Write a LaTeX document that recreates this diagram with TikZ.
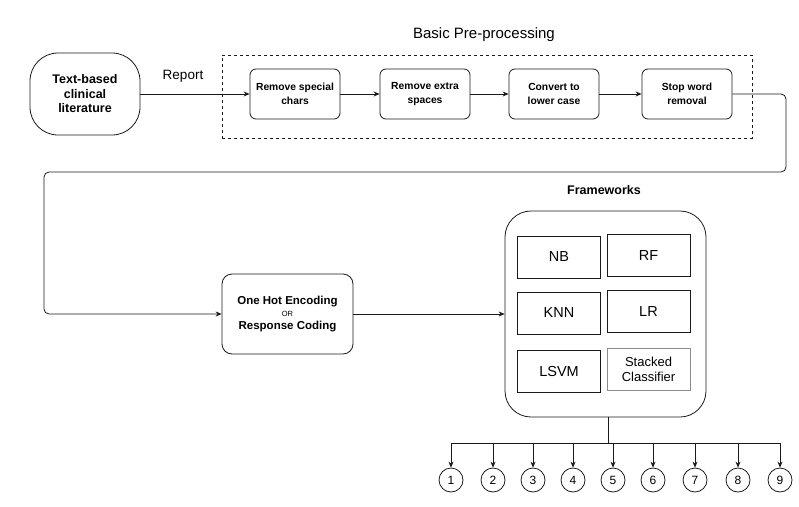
\documentclass[tikz,border=0pt]{standalone}
\usepackage{fontspec}
\setmainfont{Liberation Sans}
\usetikzlibrary{arrows.meta, positioning}
\definecolor{cline}{HTML}{1A1A1A}
\definecolor{cgrey}{HTML}{8C8C8C}
\tikzset{
  every picture/.style={line width=0.8pt, draw=cline},
  srcbox/.style={draw=cline, rounded corners=28pt, align=center, minimum width=110pt, minimum height=82pt, font=\fontsize{12.5}{14.5}\selectfont\bfseries},
  stepbox/.style={draw=cline, rounded corners=6pt, align=center, minimum width=90pt, minimum height=50pt, font=\fontsize{10.3}{13.5}\selectfont\bfseries},
  encbox/.style={draw=cline, rounded corners=10pt, align=center, minimum width=131pt, minimum height=80pt, font=\fontsize{11.5}{13}\selectfont\bfseries},
  framebox/.style={draw=cline, rounded corners=26pt, minimum width=201pt, minimum height=206pt},
  algo/.style={draw=#1, minimum width=83pt, minimum height=42pt, align=center, font=\fontsize{14.5}{16}\selectfont},
  algo/.default=cline,
  outnode/.style={draw=cline, circle, minimum size=24pt, inner sep=0pt, font=\fontsize{12}{14}\selectfont},
  arrow/.style={-{Stealth[length=6pt, width=5pt]}, draw=cline},
  title/.style={font=\fontsize{15}{17}\selectfont},
  note/.style={font=\fontsize{12.5}{14}\selectfont\bfseries},
}
\begin{document}
\begin{tikzpicture}[x=1pt, y=-1pt]
  \useasboundingbox (0,0) rectangle (799,506);
  % source
  \node[srcbox] (src) at (85,94) {Text-based\\clinical\\literature};
  \node[font=\fontsize{13.5}{15}\selectfont] (rep) at (183,76) {Report};
  % pre-processing
  \node[title] (preT) at (484,35) {Basic Pre-processing};
  \node[draw=cline, dashed, line width=0.6pt, minimum width=530pt, minimum height=83pt] (prep) at (487,96.5) {};
  \node[stepbox] (rm) at (295,94) {Remove special\\chars};
  \node[stepbox] (sp) at (425,94) {Remove extra\\spaces};
  \node[stepbox] (low) at (554,94) {Convert to\\lower case};
  \node[stepbox] (stop) at (687,94) {Stop word\\removal};
  \draw[arrow] (src.east) -- (rm.west);
  \draw[arrow] (rm) -- (sp); \draw[arrow] (sp) -- (low); \draw[arrow] (low) -- (stop);
  % encoding
  \node[encbox] (enc) at (287.5,314) {One Hot Encoding\\[-1pt]{\fontsize{7.5}{8}\selectfont\mdseries OR}\\Response Coding};
  \coordinate (c1) at (786,172);
  \coordinate (c2) at (44,172);
  \draw[arrow, rounded corners=5pt] (stop.east) -| (c1) -- (c2) |- (enc.west);
  % frameworks
  \node[note] (frT) at (604,190) {Frameworks};
  \node[framebox] (frame) at (605.5,314) {};
  \node[algo] (nb) at (559,257) {NB};
  \node[algo] (rf) at (648.5,255.5) {RF};
  \node[algo] (knn) at (559,313) {KNN};
  \node[algo] (lr) at (648.5,311.5) {LR};
  \node[algo] (lsvm) at (559,371.5) {LSVM};
  \node[algo=cgrey, font=\fontsize{13}{15}\selectfont] (stk) at (648.5,369.5) {Stacked\\Classifier};
  \draw[arrow] (enc.east) -- (frame.west);
  % outputs
  \coordinate (fork) at (608,443);
  \draw (608,417) -- (fork);
  \foreach \i/\x in {1/451, 2/493, 3/533, 4/573, 5/613, 6/653, 7/695, 8/738, 9/780} {
    \node[outnode] (o\i) at (\x,480) {\i};
    \draw[arrow] (fork) -| (o\i.north);
  }
\end{tikzpicture}
\end{document}
